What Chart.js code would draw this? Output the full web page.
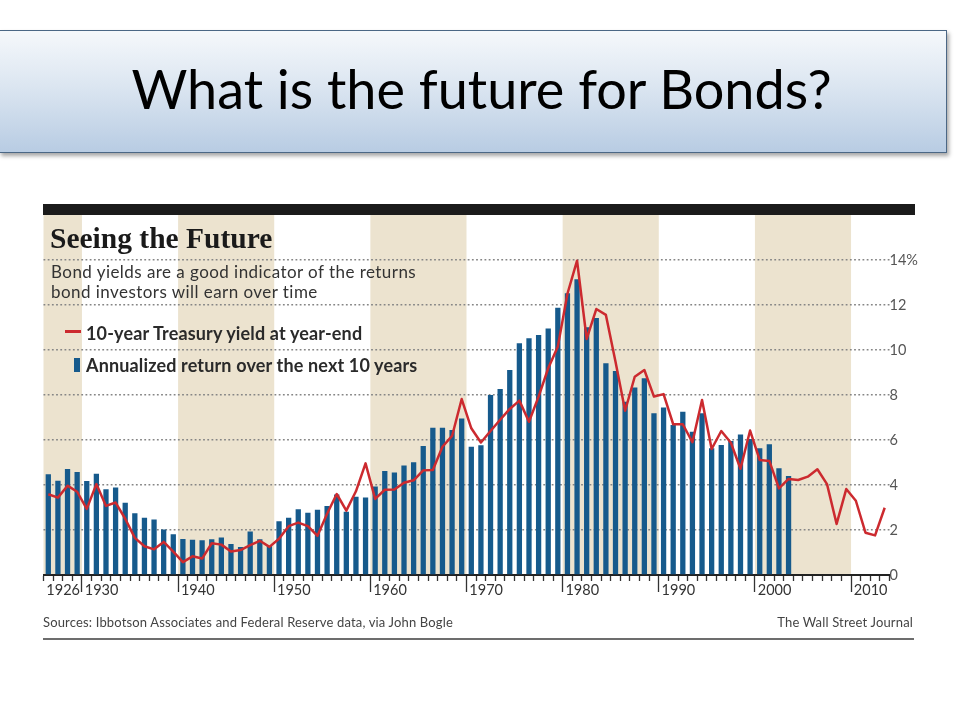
<!DOCTYPE html>
<html>
<head>
<meta charset="utf-8">
<script src="https://cdn.jsdelivr.net/npm/chart.js@4.4.1/dist/chart.umd.min.js"></script>
<style>
html,body{margin:0;padding:0;background:#fff;width:960px;height:720px;overflow:hidden;}
#wrap{position:relative;width:960px;height:720px;}
#chart{position:absolute;left:0;top:0;z-index:0;}
.t{position:absolute;z-index:2;white-space:nowrap;}
#slideBox{position:absolute;left:-1px;top:30px;width:946px;height:121px;border:1px solid #4b6785;
  background:linear-gradient(to bottom,#f5f8fb 0%,#dce6f1 45%,#b8cce3 100%);
  box-shadow:2px 3px 4px rgba(0,0,0,0.35);z-index:1;}
#slideTitle{left:0;width:963px;text-align:center;top:62px;font-family:Lato,sans-serif;font-size:54px;line-height:54px;color:#000;}
#blackbar{position:absolute;left:43px;top:204px;width:872px;height:11px;background:#1b1b1b;z-index:1;}
#head{left:50px;top:224px;font-family:"Liberation Serif",serif;font-weight:bold;font-size:29.5px;line-height:29px;color:#1a1a1a;}
#sub{left:51px;top:262px;font-family:Lato,sans-serif;font-size:17px;line-height:20px;letter-spacing:0.45px;color:#333;}
.leg{left:86px;font-family:Lato,sans-serif;font-weight:bold;font-size:18px;line-height:17px;letter-spacing:0.15px;color:#2a2a2a;}
#leg1{top:325px;}
#leg2{top:357px;}
#legLine{position:absolute;left:65px;top:330px;width:16px;height:3px;background:#cc2a2f;z-index:2;}
#legBar{position:absolute;left:74px;top:358px;width:6px;height:14px;background:#165a8c;z-index:2;}
.src{top:616px;font-family:Lato,sans-serif;font-size:13px;line-height:13px;letter-spacing:0.16px;color:#444;}
#src1{left:43px;}
#src2{right:47px;}
#rule{position:absolute;left:43px;top:638px;width:871px;height:2px;background:#6d6d6d;z-index:1;}
</style>
</head>
<body>
<div id="wrap">
  <canvas id="chart" width="960" height="720"></canvas>
  <div id="slideBox"></div>
  <div class="t" id="slideTitle">What is the future for Bonds?</div>
  <div id="blackbar"></div>
  <div class="t" id="head">Seeing the Future</div>
  <div class="t" id="sub">Bond yields are a good indicator of the returns<br>bond investors will earn over time</div>
  <div id="legLine"></div>
  <div class="t leg" id="leg1">10-year Treasury yield at year-end</div>
  <div id="legBar"></div>
  <div class="t leg" id="leg2">Annualized return over the next 10 years</div>
  <div class="t src" id="src1">Sources: Ibbotson Associates and Federal Reserve data, via John Bogle</div>
  <div class="t src" id="src2">The Wall Street Journal</div>
  <div id="rule"></div>
</div>
<script>
const years = ['1926','1927','1928','1929','1930','1931','1932','1933','1934','1935',
  '1936','1937','1938','1939','1940','1941','1942','1943','1944','1945',
  '1946','1947','1948','1949','1950','1951','1952','1953','1954','1955',
  '1956','1957','1958','1959','1960','1961','1962','1963','1964','1965',
  '1966','1967','1968','1969','1970','1971','1972','1973','1974','1975',
  '1976','1977','1978','1979','1980','1981','1982','1983','1984','1985',
  '1986','1987','1988','1989','1990','1991','1992','1993','1994','1995',
  '1996','1997','1998','1999','2000','2001','2002','2003','2004','2005',
  '2006','2007','2008','2009','2010','2011','2012','2013'];

// 10-year Treasury yield at year-end (%), 1926-2013
const treasuryYield = [3.59,3.44,3.97,3.70,2.94,4.04,3.07,3.22,2.50,1.65,
  1.28,1.14,1.47,1.04,0.57,0.83,0.73,1.41,1.35,1.04,
  1.11,1.33,1.52,1.25,1.61,2.17,2.33,2.17,1.74,2.72,
  3.60,2.86,3.72,4.96,3.38,3.79,3.80,4.10,4.21,4.65,
  4.67,5.70,6.18,7.82,6.52,5.89,6.40,6.90,7.38,7.75,
  6.81,7.93,9.19,10.15,12.50,13.97,10.49,11.82,11.56,9.48,
  7.30,8.81,9.11,7.93,8.04,6.70,6.70,5.90,7.78,5.60,
  6.40,5.88,4.72,6.42,5.11,5.07,3.85,4.27,4.22,4.37,
  4.70,4.04,2.27,3.82,3.30,1.88,1.76,2.99];

// Annualized return over the next 10 years (%), 1926-2003
const annualizedReturn = [4.48,4.19,4.71,4.58,4.18,4.50,3.81,3.89,3.21,2.74,
  2.55,2.47,2.02,1.81,1.60,1.57,1.54,1.59,1.67,1.38,
  1.25,1.93,1.59,1.29,2.39,2.54,2.92,2.77,2.90,3.07,
  3.58,2.81,3.48,3.45,3.93,4.62,4.56,4.87,5.01,5.73,
  6.55,6.55,6.44,6.96,5.70,5.77,8.00,8.27,9.11,10.30,
  10.52,10.67,10.96,11.88,12.52,13.14,11.01,11.42,9.41,9.07,
  7.70,8.33,8.74,7.19,7.45,6.67,7.26,6.37,7.19,5.63,
  5.78,5.96,6.25,6.05,5.63,5.81,4.75,4.40];

const xTickLabels = ['1926','1930','1940','1950','1960','1970','1980','1990','2000','2010'];
const majorTickYears = ['1930','1940','1950','1960','1970','1980','1990','2000','2010'];
const shadedDecades = [['1926','1929'],['1940','1949'],['1960','1969'],['1980','1989'],['2000','2009']];
const yTickLabels = {0:'0',2:'2',4:'4',6:'6',8:'8',10:'10',12:'12',14:'14%'};

const bandPlugin = {
  id: 'decadeBands',
  beforeDraw(chart) {
    const xs = chart.scales.x, area = chart.chartArea, ctx = chart.ctx;
    const half = (xs.getPixelForTick(1) - xs.getPixelForTick(0)) / 2;
    ctx.save();
    ctx.fillStyle = '#ece3cf';
    shadedDecades.forEach(([a, b]) => {
      const l = xs.getPixelForTick(years.indexOf(a)) - half;
      const r = xs.getPixelForTick(years.indexOf(b)) + half;
      ctx.fillRect(l, area.top, r - l, area.bottom - area.top);
    });
    ctx.restore();
  }
};

const isMajor = (i) => i !== undefined && majorTickYears.includes(years[i]);

new Chart(document.getElementById('chart'), {
  type: 'bar',
  data: {
    labels: years,
    datasets: [
      {
        type: 'line',
        label: '10-year Treasury yield at year-end',
        data: treasuryYield,
        borderColor: '#cc2a2f',
        borderWidth: 2.5,
        pointRadius: 0,
        tension: 0,
        borderJoinStyle: 'round',
        order: 0
      },
      {
        type: 'bar',
        label: 'Annualized return over the next 10 years',
        data: annualizedReturn,
        backgroundColor: '#165a8c',
        barPercentage: 0.55,
        categoryPercentage: 1.0,
        order: 1
      }
    ]
  },
  options: {
    responsive: false,
    animation: false,
    layout: { autoPadding: false, padding: { left: 43.5, top: 215, right: 20.5, bottom: 115 } },
    plugins: { legend: { display: false }, tooltip: { enabled: false }, title: { display: false } },
    scales: {
      x: {
        type: 'category',
        offset: true,
        afterFit(s) { s.height = 30; },
        grid: {
          offset: true,
          drawOnChartArea: false,
          drawTicks: true,
          tickLength: 17,
          tickColor: '#333',
          tickWidth: 1.3,
          tickBorderDash: (c) => isMajor(c.index) ? [] : [5, 100]
        },
        border: { display: true, color: '#222', width: 2 },
        ticks: {
          autoSkip: false, maxRotation: 0, minRotation: 0,
          align: 'start', padding: -10, labelOffset: -2,
          color: '#333',
          font: { family: 'Lato', size: 14.5 },
          callback: (v, i) => xTickLabels.includes(years[i]) ? years[i] : ''
        }
      },
      y: {
        position: 'right',
        min: 0, max: 16,
        afterFit(s) { s.width = 50; },
        ticks: {
          stepSize: 2, padding: 0,
          color: '#555',
          font: { family: 'Lato', size: 14.5 },
          callback: (v) => (yTickLabels[v] !== undefined ? yTickLabels[v] : '')
        },
        grid: {
          drawTicks: false,
          lineWidth: 1.6,
          color: (c) => (c.tick && c.tick.value > 0 && c.tick.value < 16) ? '#858585' : 'rgba(0,0,0,0)'
        },
        border: { display: false, dash: [1.8, 2.4] }
      }
    }
  },
  plugins: [bandPlugin]
});
</script>
</body>
</html>
